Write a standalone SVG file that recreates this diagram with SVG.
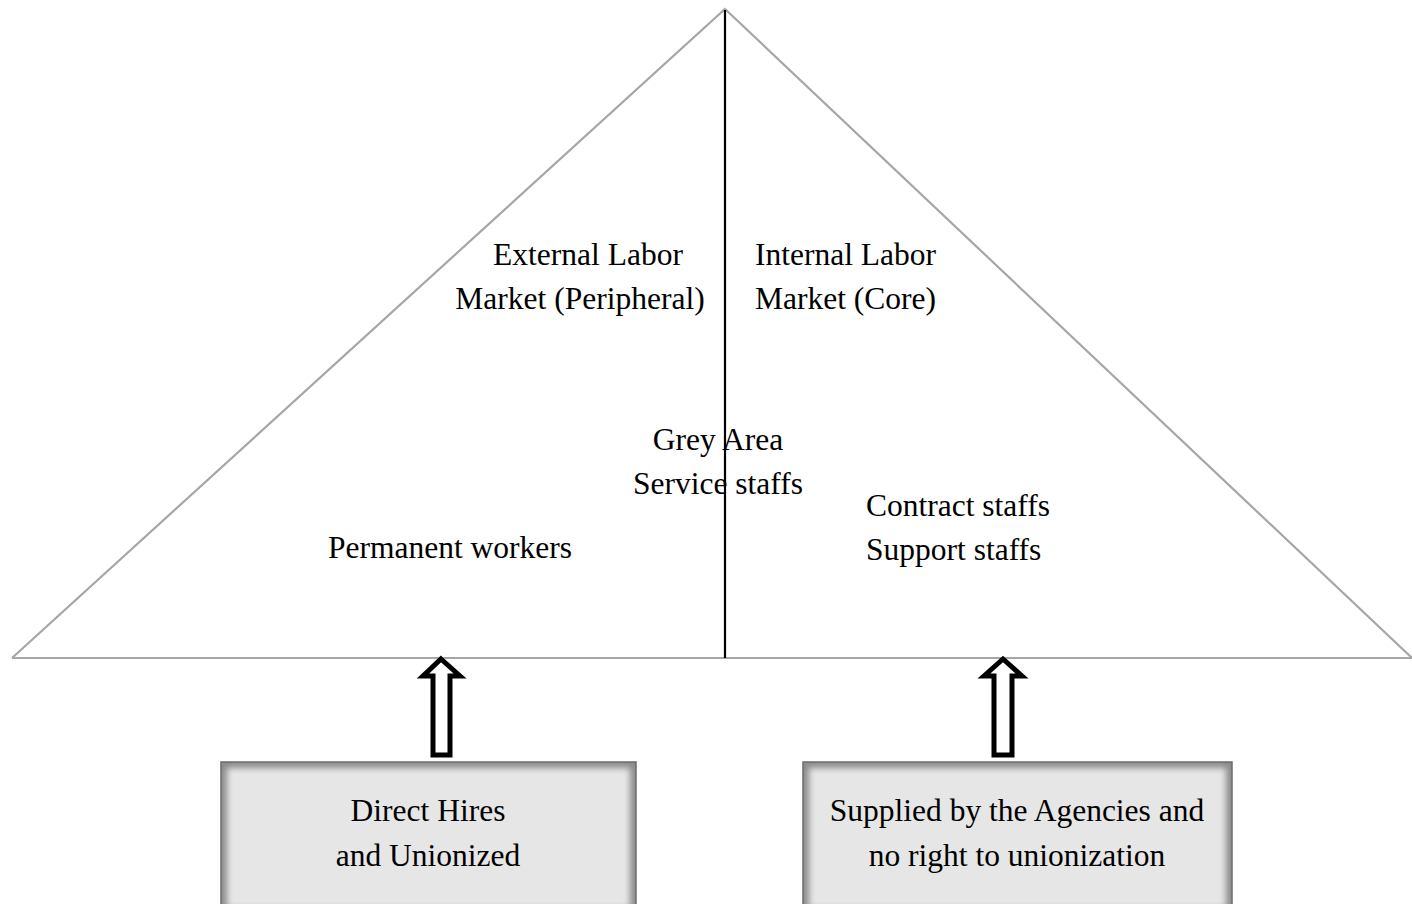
<svg xmlns="http://www.w3.org/2000/svg" width="1412" height="904" viewBox="0 0 1412 904">
<style>
.t{font-family:"Liberation Serif","Times New Roman",serif;font-size:31.5px;fill:#000}
.tri{fill:none;stroke:#a6a6a6;stroke-width:2.2}
.arr{fill:#fff;stroke:#000;stroke-width:5;stroke-linejoin:miter}
.boxo{fill:#8c8c8c;stroke:#6a6a6a;stroke-width:1.5}
.boxi{fill:#e6e6e6}
</style>
<defs>
<filter id="soft" x="-5%" y="-5%" width="110%" height="110%">
<feGaussianBlur stdDeviation="3"/>
</filter>
</defs>
<rect width="1412" height="904" fill="#fff"/>
<g id="triangle">
<polyline class="tri" points="12,658 725,9 1412,658"/>
<line x1="12" y1="658" x2="1412" y2="658" stroke="#a6a6a6" stroke-width="2.2"/>
<line x1="725" y1="10" x2="725" y2="658" stroke="#000" stroke-width="2.2"/>
</g>
<g id="labels">
<text class="t" x="588" y="265" text-anchor="middle">External Labor</text>
<text class="t" x="580" y="309" text-anchor="middle">Market (Peripheral)</text>
<text class="t" x="755" y="265">Internal Labor</text>
<text class="t" x="755" y="309">Market (Core)</text>
<text class="t" x="718" y="450" text-anchor="middle">Grey Area</text>
<text class="t" x="718" y="494" text-anchor="middle">Service staffs</text>
<text class="t" x="450" y="558" text-anchor="middle">Permanent workers</text>
<text class="t" x="866" y="516">Contract staffs</text>
<text class="t" x="866" y="560">Support staffs</text>
</g>
<g id="connectors">
<path class="arr" d="M441,659 L460,676 L450,676 L450,755 L433,755 L433,676 L423,676 Z"/>
<path class="arr" d="M1003,659 L1022,676 L1012,676 L1012,755 L994,755 L994,676 L984,676 Z"/>
</g>
<g id="box-direct">
<rect class="boxo" x="221" y="762" width="415" height="150"/>
<rect class="boxi" x="227" y="768" width="403" height="140" filter="url(#soft)"/>
<text class="t" x="428" y="821" text-anchor="middle">Direct Hires</text>
<text class="t" x="428" y="866" text-anchor="middle">and Unionized</text>
</g>
<g id="box-agency">
<rect class="boxo" x="803" y="762" width="429" height="150"/>
<rect class="boxi" x="809" y="768" width="417" height="140" filter="url(#soft)"/>
<text class="t" x="1017" y="821" text-anchor="middle">Supplied by the Agencies and</text>
<text class="t" x="1017" y="866" text-anchor="middle">no right to unionization</text>
</g>
</svg>
